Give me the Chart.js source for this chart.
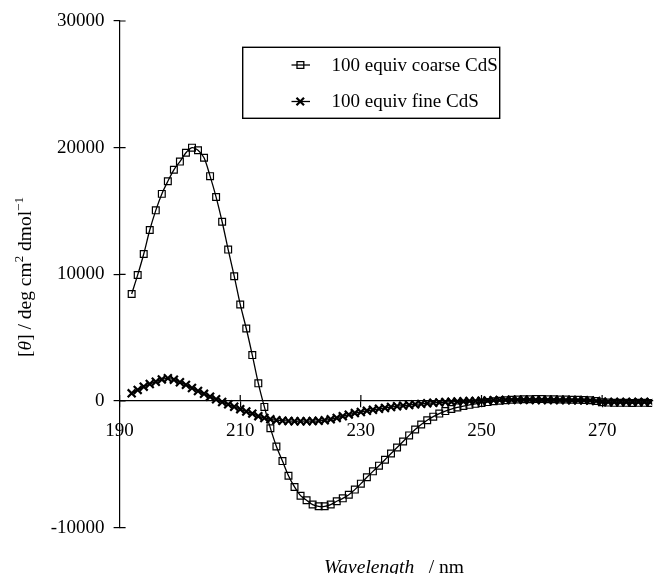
<!DOCTYPE html>
<html>
<head>
<meta charset="utf-8">
<script src="https://cdn.jsdelivr.net/npm/chart.js@4/dist/chart.umd.min.js"></script>
<style>
  html, body { margin: 0; padding: 0; background: #fff; }
  #myChart { display: block; }
</style>
</head>
<body>
<canvas id="myChart" width="660" height="574"></canvas>
<script>
'use strict'

// Data (one point per nm)
const wavelength = [
  192, 193, 194, 195, 196, 197, 198, 199, 200, 201,
  202, 203, 204, 205, 206, 207, 208, 209, 210, 211,
  212, 213, 214, 215, 216, 217, 218, 219, 220, 221,
  222, 223, 224, 225, 226, 227, 228, 229, 230, 231,
  232, 233, 234, 235, 236, 237, 238, 239, 240, 241,
  242, 243, 244, 245, 246, 247, 248, 249, 250, 251,
  252, 253, 254, 255, 256, 257, 258, 259, 260, 261,
  262, 263, 264, 265, 266, 267, 268, 269, 270, 271,
  272, 273, 274, 275, 276, 277, 278
]
const coarseCdS = [
  8450, 9950, 11600, 13500, 15050, 16350, 17350, 18250, 18900, 19600,
  20000, 19800, 19200, 17750, 16100, 14150, 11950, 9850, 7620, 5720,
  3620, 1390, -470, -2150, -3600, -4750, -5900, -6790, -7480, -7840,
  -8180, -8320, -8320, -8180, -7920, -7690, -7400, -7000, -6530, -6030,
  -5560, -5110, -4640, -4150, -3680, -3200, -2720, -2260, -1860, -1520,
  -1240, -1000, -800, -640, -510, -400, -310, -230, -160, -90,
  -30, 20, 60, 90, 110, 130, 140, 150, 150, 140,
  130, 120, 110, 100, 90, 70, 50, 0, -100, -130,
  -150, -150, -150, -160, -150, -150, -160
]
const fineCdS = [
  600, 870, 1130, 1340, 1520, 1700, 1790, 1680, 1480, 1270,
  1020, 790, 560, 340, 130, -80, -270, -460, -650, -830,
  -1000, -1200, -1350, -1450, -1520, -1560, -1580, -1600, -1600, -1600,
  -1590, -1570, -1530, -1450, -1340, -1200, -1080, -960, -870, -780,
  -700, -620, -550, -480, -420, -370, -320, -270, -230, -190,
  -150, -120, -90, -70, -50, -30, -10, 0, 20, 40,
  60, 70, 80, 90, 90, 90, 90, 80, 80, 80,
  80, 70, 70, 60, 60, 50, 30, 0, -60, -80,
  -90, -90, -90, -80, -80, -80, -80
]
const seriesLabels = ['100 equiv coarse CdS', '100 equiv fine CdS']
const xTicks = [190, 210, 230, 250, 270]
const yTicks = [-10000, 0, 10000, 20000, 30000]

const SERIF = "'Liberation Serif', 'Times New Roman', serif"
const tickFont = { family: SERIF, size: 19 }

// tick marks that cross the axis lines (Chart.js only draws the outer half)
const crossTicks = {
  id: 'crossTicks',
  afterDraw (chart) {
    const { ctx, chartArea, scales: { x, y } } = chart
    const y0 = y.getPixelForValue(0)
    ctx.save()
    ctx.strokeStyle = '#000'
    ctx.lineWidth = 1.2
    ctx.beginPath()
    y.ticks.forEach(t => {
      const py = y.getPixelForValue(t.value)
      ctx.moveTo(chartArea.left, py)
      ctx.lineTo(chartArea.left + 6, py)
    })
    x.ticks.forEach(t => {
      const px = x.getPixelForValue(t.value)
      ctx.moveTo(px, y0)
      ctx.lineTo(px, y0 - 6)
    })
    ctx.stroke()
    ctx.restore()
  }
}

// mixed italic / superscript text runs
function drawRuns (ctx, runs, size) {
  const fontFor = r => (r.italic ? 'italic ' : '') + (r.sup ? Math.round(size * 0.65) : size) + 'px ' + SERIF
  let w = 0
  runs.forEach(r => { ctx.font = fontFor(r); r.w = ctx.measureText(r.t).width; w += r.w })
  return {
    width: w,
    draw (x0, y0) {
      let cx = x0
      runs.forEach(r => {
        ctx.font = fontFor(r)
        ctx.fillText(r.t, cx, r.sup ? y0 - size * 0.42 : y0)
        cx += r.w
      })
    }
  }
}

const axisTitles = {
  id: 'axisTitles',
  afterDraw (chart) {
    const ctx = chart.ctx
    ctx.save()
    ctx.fillStyle = '#000'
    ctx.textBaseline = 'alphabetic'
    ctx.textAlign = 'left'

    const xt = drawRuns(ctx, [{ t: 'Wavelength', italic: true }, { t: '   / nm' }], 19.5)
    xt.draw(464 - xt.width, 572.5)

    ctx.translate(31, 277)
    ctx.rotate(-Math.PI / 2)
    const yt = drawRuns(ctx, [
      { t: '[' }, { t: 'θ', italic: true }, { t: '] / deg cm' }, { t: '2', sup: true },
      { t: ' dmol' }, { t: '−1', sup: true }
    ], 19.5)
    yt.draw(-yt.width / 2, 0)
    ctx.restore()
  }
}

// boxed legend as in the original figure
const boxLegend = {
  id: 'boxLegend',
  afterDraw (chart) {
    const ctx = chart.ctx
    ctx.save()
    ctx.strokeStyle = '#000'
    ctx.lineWidth = 1.4
    ctx.strokeRect(242.7, 47.3, 257, 71)
    ctx.font = '19px ' + SERIF
    ctx.fillStyle = '#000'
    ctx.textBaseline = 'middle'
    const rows = [65, 101.5]
    chart.data.datasets.forEach((ds, i) => {
      const ry = rows[i]
      ctx.lineWidth = 1.3
      ctx.beginPath()
      ctx.moveTo(291.5, ry)
      ctx.lineTo(310, ry)
      ctx.stroke()
      ctx.beginPath()
      if (ds.pointStyle === 'rect') {
        ctx.rect(297, ry - 3.4, 6.8, 6.8)
      } else {
        ctx.lineWidth = 2.2
        ctx.moveTo(296.5, ry - 3.8); ctx.lineTo(304, ry + 3.8)
        ctx.moveTo(296.5, ry + 3.8); ctx.lineTo(304, ry - 3.8)
      }
      ctx.stroke()
      ctx.fillText(ds.label, 331.5, ry + 1)
    })
    ctx.restore()
  }
}

const ctx = document.getElementById('myChart')
// eslint-disable-next-line no-unused-vars
const myChart = new Chart(ctx, {
  type: 'line',
  data: {
    datasets: [{
      label: seriesLabels[0],
      data: wavelength.map((w, i) => ({ x: w, y: coarseCdS[i] })),
      borderColor: '#000',
      borderWidth: 1.3,
      tension: 0.3,
      pointStyle: 'rect',
      pointRadius: 4.8,
      pointBorderWidth: 1.2,
      pointBorderColor: '#000',
      pointBackgroundColor: 'transparent'
    }, {
      label: seriesLabels[1],
      data: wavelength.map((w, i) => ({ x: w, y: fineCdS[i] })),
      borderColor: '#000',
      borderWidth: 1.3,
      tension: 0.3,
      pointStyle: 'crossRot',
      pointRadius: 5.6,
      pointBorderWidth: 2.2,
      pointBorderColor: '#000',
      pointBackgroundColor: '#000'
    }]
  },
  options: {
    responsive: false,
    animation: false,
    devicePixelRatio: 1,
    layout: { padding: { top: 21, right: 0, bottom: 46.4, left: 0 } },
    plugins: {
      legend: { display: false },
      tooltip: { enabled: false }
    },
    scales: {
      x: {
        type: 'linear',
        position: { y: 0 },
        min: 190,
        max: 278.3,
        afterBuildTicks: s => { s.ticks = xTicks.map(v => ({ value: v })) },
        ticks: { font: tickFont, color: '#000', padding: 13, maxRotation: 0, autoSkip: false, callback: v => String(v) },
        grid: { drawOnChartArea: false, tickLength: 6, color: '#000', lineWidth: 1.2 },
        border: { color: '#000', width: 1.2 }
      },
      y: {
        min: -10000,
        max: 30000,
        afterBuildTicks: s => { s.ticks = yTicks.map(v => ({ value: v })) },
        afterFit: s => { s.width = 119.6 },
        ticks: { font: tickFont, color: '#000', padding: 9, callback: v => String(v) },
        grid: { drawOnChartArea: false, tickLength: 6, color: '#000', lineWidth: 1.2 },
        border: { color: '#000', width: 1.2 }
      }
    }
  },
  plugins: [crossTicks, axisTitles, boxLegend]
})
</script>
</body>
</html>
